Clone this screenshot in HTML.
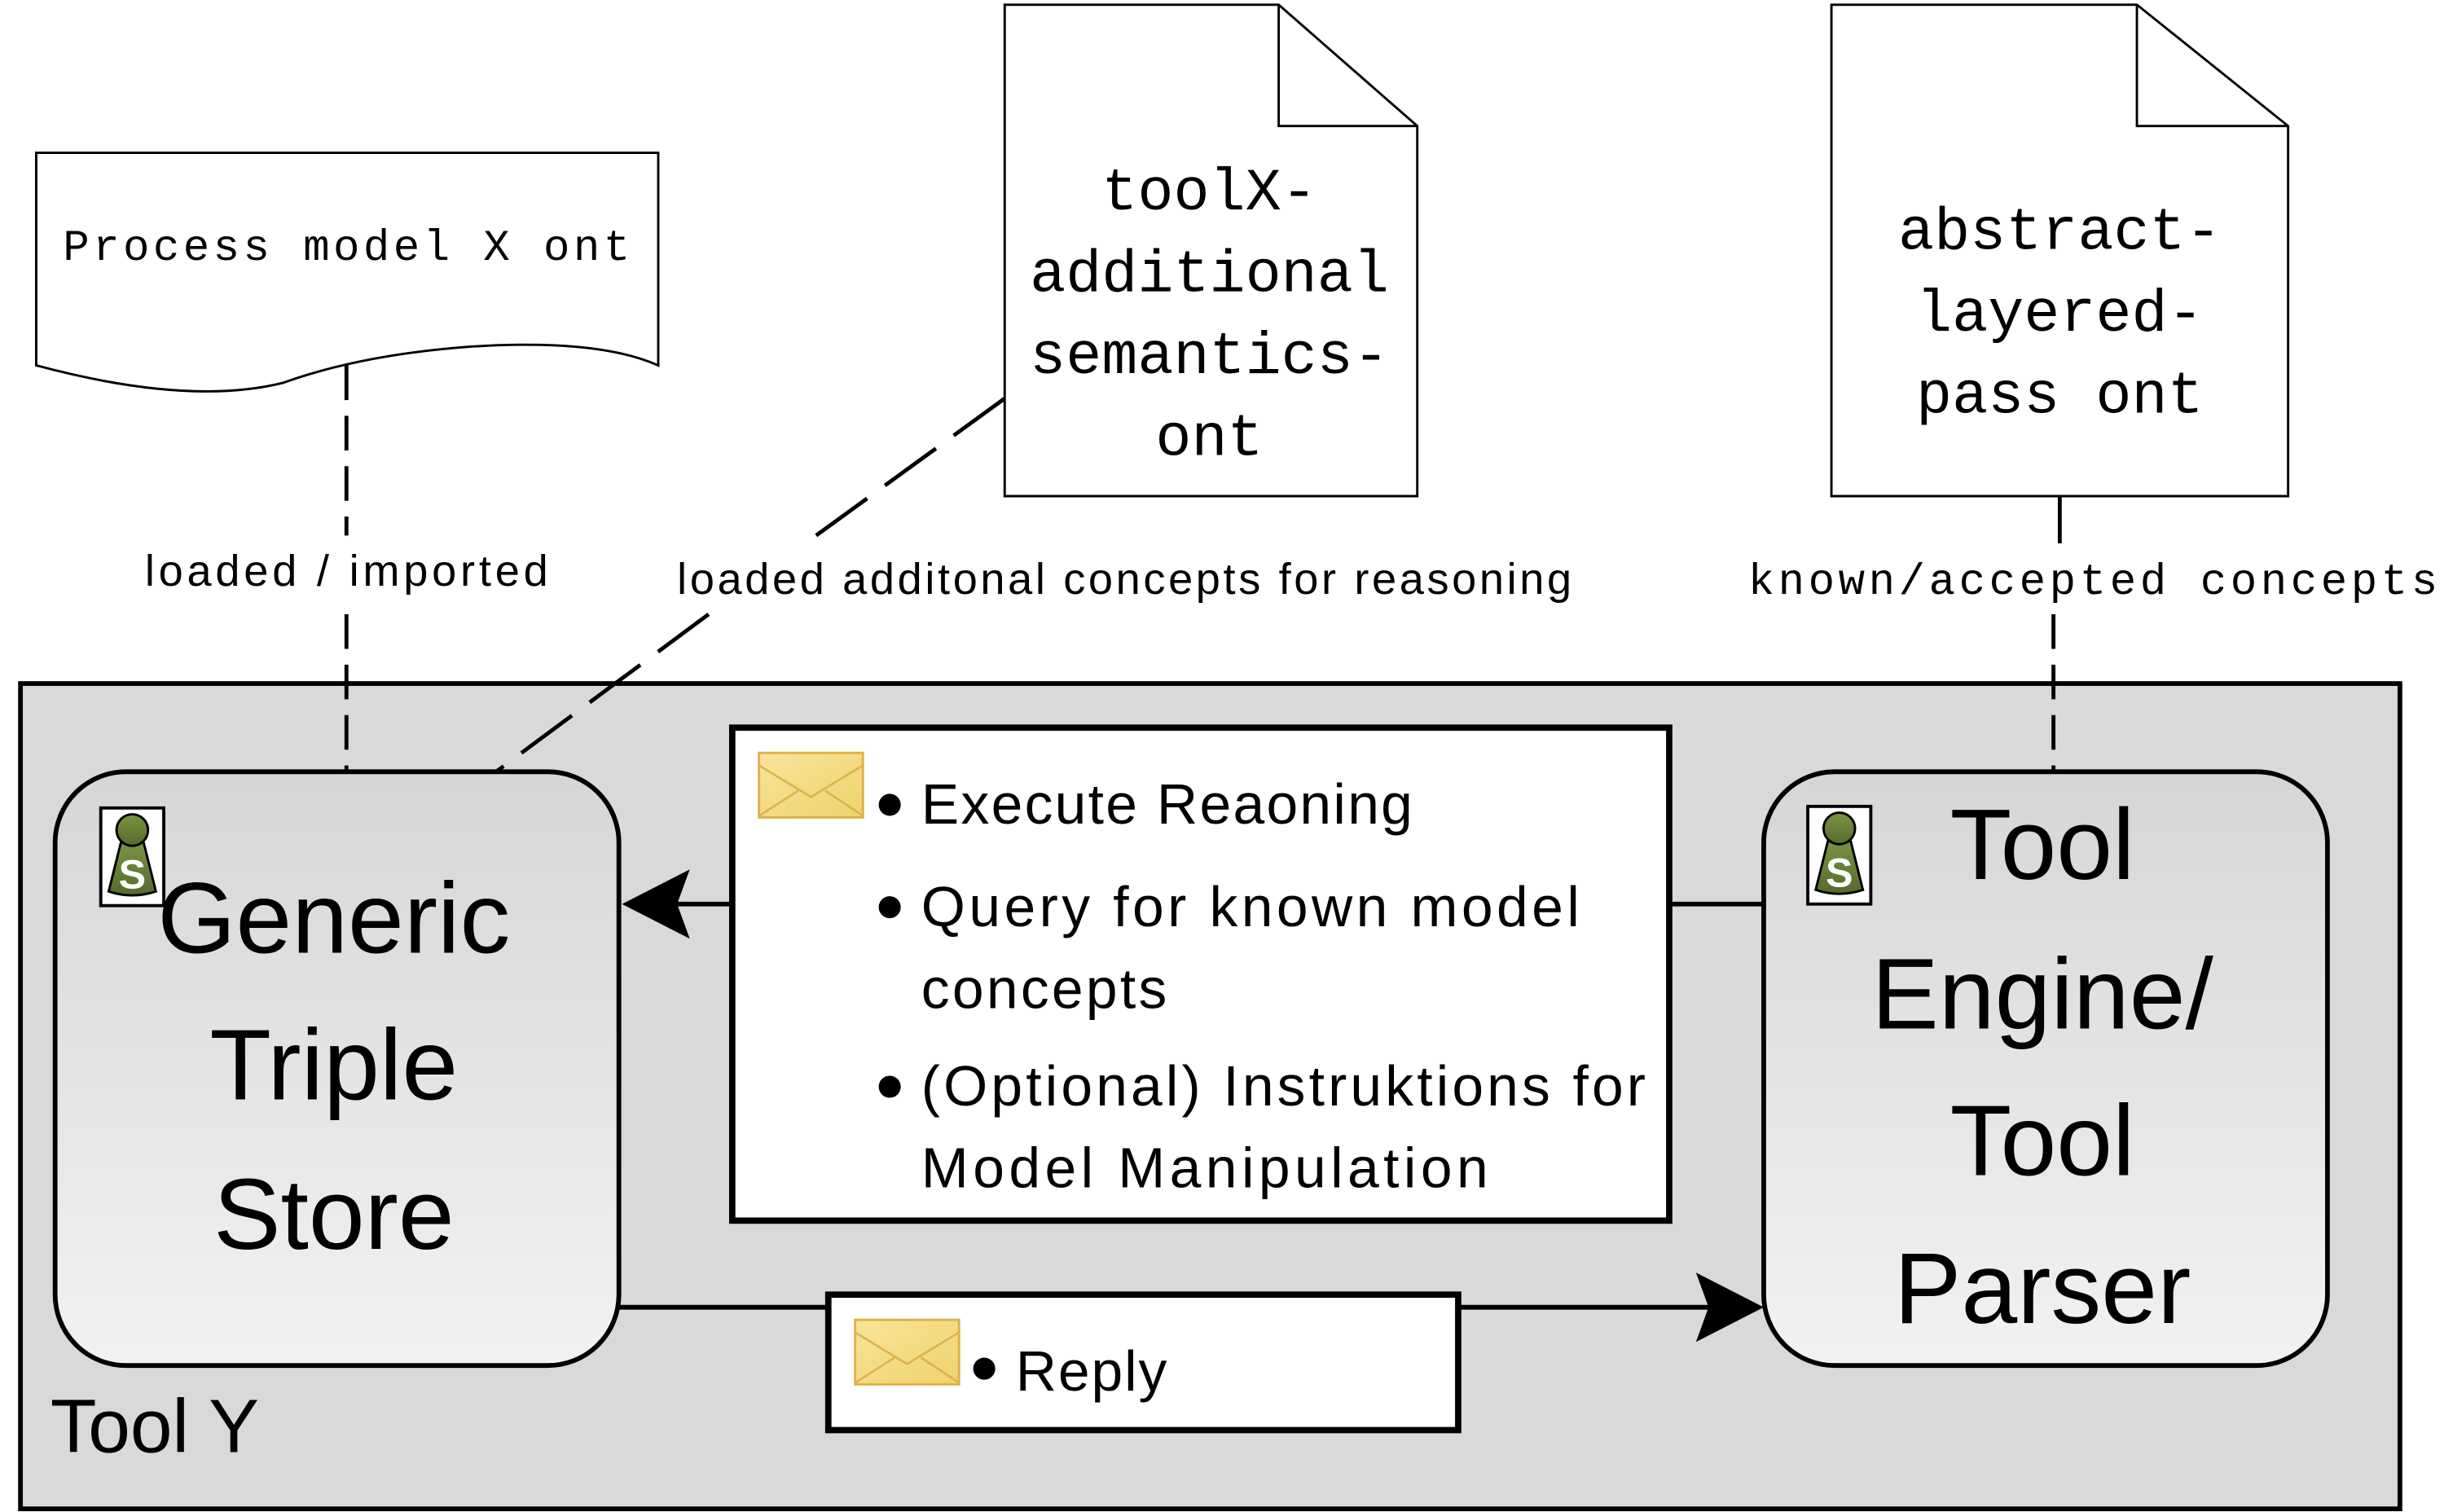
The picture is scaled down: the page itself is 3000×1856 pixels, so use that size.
<!DOCTYPE html>
<html><head><meta charset="utf-8"><style>html,body{margin:0;padding:0;background:#fff}svg{display:block}</style></head>
<body>
<svg width="3000" height="1856" viewBox="0 0 1552 960" preserveAspectRatio="none" xmlns="http://www.w3.org/2000/svg">
<defs>
<linearGradient id="g" x1="0" y1="0" x2="0" y2="1"><stop offset="0" stop-color="#d6d6d6"/><stop offset="1" stop-color="#f2f2f2"/></linearGradient>
<linearGradient id="env" x1="0" y1="0" x2="1" y2="1"><stop offset="0" stop-color="#f8e39a"/><stop offset="1" stop-color="#efd36d"/></linearGradient>
<linearGradient id="pawn" x1="0" y1="0" x2="0" y2="1"><stop offset="0" stop-color="#7a9444"/><stop offset="1" stop-color="#566b2c"/></linearGradient>
<g id="icon">
<rect x="0" y="0" width="40" height="62" fill="#fff" stroke="#000" stroke-width="2"/>
<path d="M13,21 L5,53 Q20,58 35,53 L27,21 Z" fill="url(#pawn)" stroke="#000" stroke-width="1.5"/>
<circle cx="20" cy="14" r="10" fill="url(#pawn)" stroke="#000" stroke-width="1.5"/>
<text x="20" y="51" font-family="Liberation Sans,sans-serif" font-weight="bold" font-size="26" fill="#fff" text-anchor="middle">S</text>
</g>
<g id="envelope">
<rect x="0" y="0" width="66" height="41" fill="url(#env)" stroke="#ddb24c" stroke-width="1.5"/>
<path d="M0,8 L33,28 L66,8 M0,40 L25,24 M66,40 L42,24" fill="none" stroke="#ddb24c" stroke-width="1.3"/>
</g>
</defs>

<!-- Tool Y -->
<rect x="13" y="434" width="1511" height="524" fill="#d9d9d9" stroke="#000" stroke-width="3"/>
<text x="32" y="922" font-family="Liberation Sans,sans-serif" font-size="48">Tool Y</text>

<!-- Process model doc -->
<path d="M23,97 L418,97 L418,232 Q380,215 300,220 Q230,225 180,243 Q120,258 23,232 Z" fill="#fff" stroke="#000" stroke-width="1.5"/>
<text x="40" y="165" font-family="Liberation Mono,monospace" font-size="28" textLength="360">Process model X ont</text>
<line x1="220" y1="232" x2="220" y2="340" stroke="#000" stroke-width="2.5" stroke-dasharray="22,10"/>
<line x1="220" y1="390" x2="220" y2="490" stroke="#000" stroke-width="2.5" stroke-dasharray="22,10"/>
<text x="220" y="372" font-family="Liberation Sans,sans-serif" font-size="28" text-anchor="middle" textLength="256">loaded / imported</text>

<!-- toolX doc -->
<path d="M638,3 L812,3 L900,80 L900,315 L638,315 Z M812,3 L812,80 L900,80" fill="#fff" stroke="#000" stroke-width="1.5"/>
<g font-family="Liberation Mono,monospace" font-size="38" text-anchor="middle">
<text x="768" y="133">toolX-</text>
<text x="768" y="185">additional</text>
<text x="768" y="237">semantics-</text>
<text x="768" y="289">ont</text>
</g>
<line x1="638" y1="253" x2="510" y2="346" stroke="#000" stroke-width="2.5" stroke-dasharray="40,14"/>
<line x1="450" y1="390" x2="315" y2="490" stroke="#000" stroke-width="2.5" stroke-dasharray="40,14"/>
<text x="430" y="377" font-family="Liberation Sans,sans-serif" font-size="28" textLength="568">loaded additonal concepts for reasoning</text>

<!-- abstract doc -->
<path d="M1163,3 L1357,3 L1453,80 L1453,315 L1163,315 Z M1357,3 L1357,80 L1453,80" fill="#fff" stroke="#000" stroke-width="1.5"/>
<g font-family="Liberation Mono,monospace" font-size="38" text-anchor="middle">
<text x="1308" y="158">abstract-</text>
<text x="1308" y="210">layered-</text>
<text x="1308" y="262">pass ont</text>
</g>
<line x1="1308" y1="315" x2="1308" y2="345" stroke="#000" stroke-width="2.5"/>
<line x1="1304" y1="390" x2="1304" y2="490" stroke="#000" stroke-width="2.5" stroke-dasharray="22,10"/>
<text x="1110" y="377" font-family="Liberation Mono,monospace" font-size="28" textLength="438">known/accepted concepts</text>

<!-- Generic triple store -->
<rect x="35" y="490" width="358" height="377" rx="45" fill="url(#g)" stroke="#000" stroke-width="3"/>
<g font-family="Liberation Sans,sans-serif" font-size="64" text-anchor="middle">
<text x="212" y="605">Generic</text>
<text x="212" y="698">Triple</text>
<text x="212" y="793">Store</text>
</g>
<use href="#icon" x="64" y="513"/>

<!-- Tool engine -->
<rect x="1120" y="490" width="358" height="377" rx="45" fill="url(#g)" stroke="#000" stroke-width="3"/>
<g font-family="Liberation Sans,sans-serif" font-size="64" text-anchor="middle">
<text x="1297" y="558">Tool</text>
<text x="1297" y="653">Engine/</text>
<text x="1297" y="746">Tool</text>
<text x="1297" y="840">Parser</text>
</g>
<use href="#icon" x="1148" y="512"/>

<!-- connectors -->
<line x1="1060" y1="574" x2="1120" y2="574" stroke="#000" stroke-width="3"/>
<line x1="465" y1="574" x2="430" y2="574" stroke="#000" stroke-width="3"/>
<path d="M395,574 L438,552 L430,574 L438,596 Z" fill="#000"/>
<line x1="393" y1="830" x2="526" y2="830" stroke="#000" stroke-width="3"/>
<line x1="926" y1="830" x2="1085" y2="830" stroke="#000" stroke-width="3"/>
<path d="M1120,830 L1077,808 L1085,830 L1077,852 Z" fill="#000"/>

<!-- Message box -->
<rect x="465" y="462" width="595" height="313" fill="#fff" stroke="#000" stroke-width="4"/>
<use href="#envelope" x="482" y="478"/>
<g font-family="Liberation Sans,sans-serif" font-size="36">
<circle cx="565" cy="511" r="7"/>
<text x="585" y="523" textLength="312">Execute Reaoning</text>
<circle cx="565" cy="576" r="7"/>
<text x="585" y="588" textLength="418">Query for known model</text>
<text x="585" y="640" textLength="156">concepts</text>
<circle cx="565" cy="690" r="7"/>
<text x="585" y="702" textLength="460">(Optional) Instruktions for</text>
<text x="585" y="754" textLength="360">Model Manipulation</text>
</g>

<!-- Reply box -->
<rect x="526" y="822" width="400" height="86" fill="#fff" stroke="#000" stroke-width="4"/>
<use href="#envelope" x="543" y="838"/>
<circle cx="625" cy="869" r="7"/>
<text x="645" y="883" font-family="Liberation Sans,sans-serif" font-size="36" textLength="96">Reply</text>
</svg>
</body></html>
